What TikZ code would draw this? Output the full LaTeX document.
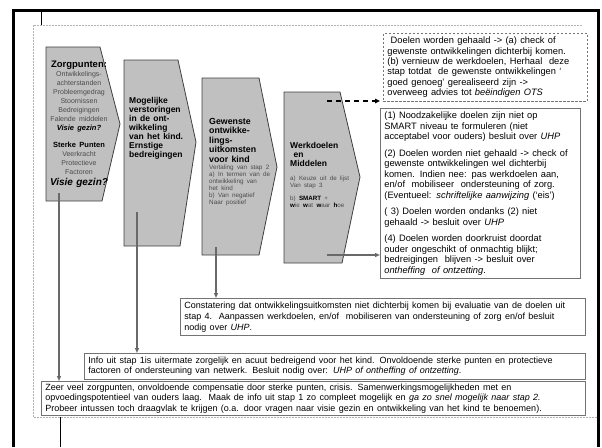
\documentclass[tikz,border=0pt]{standalone}
\usepackage{fontspec}
\setmainfont{Liberation Sans}
\usetikzlibrary{arrows.meta}
\definecolor{stepgray}{RGB}{192,192,192}
\definecolor{linegray}{RGB}{105,105,105}
\definecolor{textgray}{RGB}{75,75,75}
\newcommand{\fsz}[2]{\fontsize{#1}{#2}\selectfont}

\begin{document}
\begin{tikzpicture}[x=1pt,y=-1pt,
  stepshape/.style={fill=stepgray,draw=black!75,line width=0.8pt},
  steptext/.style={inner sep=0pt,anchor=north west,align=left},
  infobox/.style={draw=black!55,line width=0.8pt,fill=white,inner xsep=4pt,inner ysep=3.5pt,align=left,anchor=north west},
  flow/.style={draw=linegray,line width=1.2pt,-{Triangle[length=5pt,width=4pt]}},
  jump/.style={draw=black,line width=1.6pt,dash pattern=on 5pt off 4pt,-{Triangle[length=5pt,width=4.5pt]}}]
\useasboundingbox (0,0) rectangle (602,447);
% page frame
\draw[line width=3pt] (13,447) -- (13,10) -- (598,10) -- (598,447);
\draw[line width=0.8pt] (41,10) -- (41,25);
\draw[black!30,line width=0.6pt,dash pattern=on 2pt off 1pt] (582,25) -- (33,25) -- (33,417) -- (598,417);
\draw[line width=0.8pt] (60,417) -- (60,447);

% the four steps
\draw[stepshape] (46,47) -- (100,47) -- (120,124) -- (102,201) -- (46,201) -- cycle;
\draw[stepshape] (124,60) -- (178,60) -- (196,142) -- (180,246) -- (124,246) -- cycle;
\draw[stepshape] (202,78) -- (259,78) -- (277,167) -- (259,255) -- (202,255) -- cycle;
\draw[stepshape] (284,92) -- (340,92) -- (360,177) -- (342,263) -- (284,263) -- cycle;

\node[steptext,anchor=north,align=center,text width=72pt] (zorg) at (79,61)
  {\fsz{9.5}{10}\textbf{Zorgpunten:}\par
   \fsz{7}{9}\textcolor{textgray}{Ontwikkelings-\\achterstanden\\Probleemgedrag\\Stoornissen\\Bedreigingen\\Falende middelen}\par
   \fsz{7.5}{9}\textbf{\textit{Visie gezin?}}\par\vspace{8pt}
   \textbf{Sterke Punten}\par
   \fsz{7}{9}\textcolor{textgray}{Veerkracht\\Protectieve\\Factoren}\par
   \fsz{10}{10.5}\textbf{\textit{Visie gezin?}}\par};
\node[steptext,text width=66pt] (verstoring) at (129,97)
  {\fsz{8.5}{9}\bfseries Mogelijke\\verstoringen\\in de ont-\\wikkeling\\van het kind.\\Ernstige\\bedreigingen\par};
\node[steptext,text width=66pt] (gewenst) at (209,118)
  {\fsz{8.8}{9.5}\bfseries Gewenste\\ontwikke-\\lings-\\uitkomsten\\voor kind\par
   \fsz{6.3}{7}\mdseries\textcolor{textgray}{Vertaling van stap 2\\a) In termen van de\\ontwikkeling van\\het kind\\b) Van negatief\\Naar positief}\par};
\node[steptext,text width=66pt] (werkdoel) at (290,142)
  {\fsz{8.5}{9}\bfseries Werkdoelen\\\ en\\Middelen\par\vspace{7pt}
   \fsz{6.2}{7}\mdseries\textcolor{textgray}{a) Keuze uit de lijst\\Van stap 3}\par\vspace{6pt}
   \textcolor{textgray}{b) \textbf{\color{black}SMART} +\\\textbf{\color{black}w}ie \textbf{\color{black}w}at \textbf{\color{black}w}aar \textbf{\color{black}h}oe}\par};

% outcome boxes
\node[infobox,dashed,dash pattern=on 2.5pt off 1.5pt,text width=196pt] (gehaald) at (383,33)
  {\fsz{9.3}{10.4}\ Doelen worden gehaald -> (a) check of\\gewenste ontwikkelingen dichterbij komen.\\(b) vernieuw de werkdoelen, Herhaal\ \ deze\\stap totdat\ \ de gewenste ontwikkelingen ‘\\goed genoeg’ gerealiseerd zijn ->\\overweeg advies tot \textit{beëindigen OTS}\par};
\node[infobox,text width=192pt] (besluit) at (380,108)
  {\fsz{9.3}{10.5}(1) Noodzakelijke doelen zijn niet op\\SMART niveau te formuleren (niet\\acceptabel voor ouders) besluit over \textit{UHP}\\[6pt]
   (2) Doelen worden niet gehaald -> check of\\gewenste ontwikkelingen wel dichterbij\\komen. Indien nee: pas werkdoelen aan,\\en/of\ \ mobiliseer\ \ ondersteuning of zorg.\\(Eventueel: \textit{schriftelijke aanwijzing} (‘eis’)\\[6pt]
   ( 3) Doelen worden ondanks (2) niet\\gehaald -> besluit over \textit{UHP}\\[6pt]
   (4) Doelen worden doorkruist doordat\\ouder ongeschikt of onmachtig blijkt;\\bedreigingen\ \ blijven -> besluit over\\\textit{ontheffing\ \ of ontzetting}.\par};
\node[infobox,text width=397pt] (constatering) at (180,298)
  {\fsz{9}{11}Constatering dat ontwikkelingsuitkomsten niet dichterbij komen bij evaluatie van de doelen uit\\stap 4.\ \ Aanpassen werkdoelen, en/of\ \ mobiliseren van ondersteuning of zorg en/of besluit\\nodig over \textit{UHP}.\par};
\node[infobox,text width=493pt] (acuut) at (84,353)
  {\fsz{9}{10.5}Info uit stap 1is uitermate zorgelijk en acuut bedreigend voor het kind. Onvoldoende sterke punten en protectieve\\factoren of ondersteuning van netwerk. Besluit nodig over: \textit{UHP of ontheffing of ontzetting}.\par};
\node[infobox,text width=536pt,inner ysep=2.5pt] (crisis) at (41,381)
  {\fsz{9}{10.3}Zeer veel zorgpunten, onvoldoende compensatie door sterke punten, crisis. Samenwerkingsmogelijkheden met en\\opvoedingspotentieel van ouders laag.\ \ Maak de info uit stap 1 zo compleet mogelijk en \textit{ga zo snel mogelijk naar stap 2.}\\Probeer intussen toch draagvlak te krijgen (o.a. door vragen naar visie gezin en ontwikkeling van het kind te benoemen).\par};

% connectors
\coordinate (zorgfoot) at (59,193);
\coordinate (verstoringfoot) at (137,212);
\coordinate (gewenstfoot) at (216,247);
\coordinate (werktop) at (327,101);
\coordinate (werkfoot) at (327,255);
\draw[flow] (zorgfoot) -- (zorgfoot |- crisis.north);
\draw[flow] (verstoringfoot) -- (verstoringfoot |- acuut.north);
\draw[flow] (gewenstfoot) -- (gewenstfoot |- constatering.north);
\draw[jump] (werktop) -- (werktop -| besluit.west);
\draw[flow] (werkfoot) -- (werkfoot -| besluit.west);
\end{tikzpicture}
\end{document}
